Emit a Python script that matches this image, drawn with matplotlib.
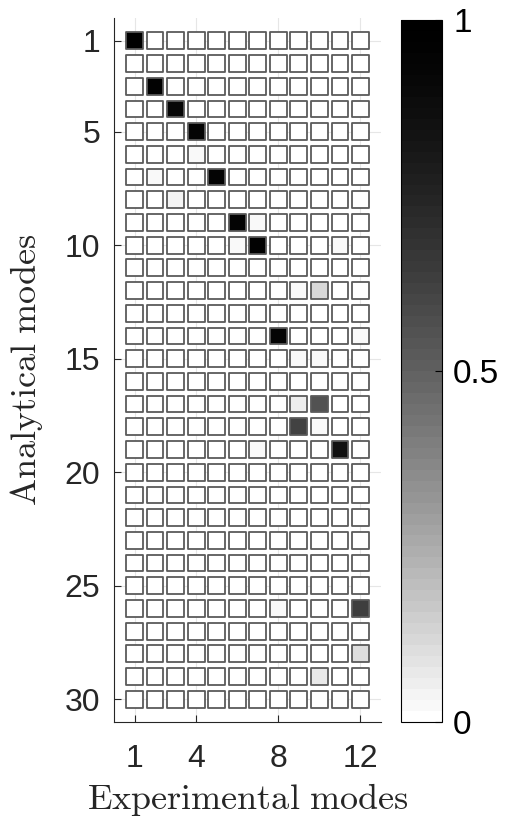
import numpy as np
import matplotlib
matplotlib.use("Agg")
import matplotlib.pyplot as plt
from matplotlib.colors import ListedColormap

# ----------------------------
# MAC matrix data (non-zero entries only)
# ----------------------------
n_analytical = 30
n_experimental = 12

analytical_mode = [1, 3, 4, 5, 6, 7, 7, 8, 9, 9, 10, 10, 10, 12, 12,
                   14, 14, 15, 15, 17, 17, 18, 18, 19, 19, 23, 26, 26, 28, 29]
experimental_mode = [1, 2, 3, 4, 4, 2, 5, 3, 6, 7, 6, 7, 11, 9, 10,
                     8, 12, 9, 10, 9, 10, 9, 10, 7, 11, 12, 8, 12, 12, 10]
mac_value = [0.99, 0.96, 0.92, 0.94, 0.02, 0.02, 0.94, 0.04, 0.95, 0.025,
             0.03, 0.96, 0.02, 0.03, 0.12, 0.94, 0.02, 0.03, 0.03, 0.06,
             0.55, 0.62, 0.02, 0.02, 0.85, 0.015, 0.02, 0.64, 0.10, 0.07]

x_ticks = [1, 4, 8, 12]
y_ticks = [1, 5, 10, 15, 20, 25, 30]
cbar_ticks = [0, 0.5, 1]

# full matrix
mac = np.zeros((n_analytical, n_experimental))
for r, c, v in zip(analytical_mode, experimental_mode, mac_value):
    mac[r - 1, c - 1] = v

# reversed gray map with 64 levels (slight gamma)
levels = np.linspace(0, 1, 64)
shade = (1 - levels) ** 1.4
cmap = ListedColormap(np.column_stack([shade, shade, shade]))

plt.rcParams['mathtext.fontset'] = 'cm'
tick_font = 'Liberation Sans'

fig = plt.figure(figsize=(5.09, 8.22), dpi=100)
ax = fig.add_axes([0.224, 0.1217, 0.5245, 0.8563])

cols, rows = np.meshgrid(np.arange(1, n_experimental + 1), np.arange(1, n_analytical + 1))
sc = ax.scatter(cols.ravel(), rows.ravel(), c=mac.ravel(), cmap=cmap, vmin=0, vmax=1,
                marker='s', s=145, edgecolors='#5a5a5a', linewidths=1.3, zorder=3)

ax.set_xlim(0, 13)
ax.set_ylim(31, 0)
ax.set_xticks(x_ticks)
ax.set_yticks(y_ticks)
ax.grid(True, color='#e6e6e6', linewidth=0.8, zorder=0)
ax.set_axisbelow(True)
for side in ['top', 'right']:
    ax.spines[side].set_visible(False)
for side in ['left', 'bottom']:
    ax.spines[side].set_color('#262626')
    ax.spines[side].set_linewidth(0.8)
ax.tick_params(direction='in', length=5, width=0.8, color='#262626', labelsize=23)
ax.tick_params(axis='x', pad=16)
ax.tick_params(axis='y', pad=10)
for lbl in ax.get_xticklabels() + ax.get_yticklabels():
    lbl.set_fontfamily(tick_font)
    lbl.set_color('#262626')

ax.set_xlabel(r'$\mathrm{Experimental\ modes}$', fontsize=26, labelpad=5, color='#262626')
ax.set_ylabel(r'$\mathrm{Analytical\ modes}$', fontsize=26, labelpad=14, color='#262626')

# colorbar
cax = fig.add_axes([0.788, 0.1217, 0.0806, 0.854])
cb = fig.colorbar(sc, cax=cax, ticks=cbar_ticks)
cb.ax.set_yticklabels(['0', '0.5', '1'])
cb.outline.set_linewidth(0.8)
cb.ax.tick_params(direction='in', length=5, width=0.8, labelsize=24, pad=8)
for lbl in cb.ax.get_yticklabels():
    lbl.set_fontfamily(tick_font)

fig.savefig('out.png', dpi=100)
